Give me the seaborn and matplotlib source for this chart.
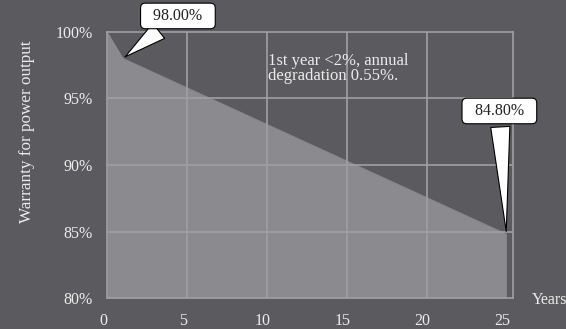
import matplotlib
matplotlib.use("Agg")
import matplotlib.pyplot as plt
import matplotlib.transforms as mtrans
import seaborn as sns
import pandas as pd

# ─────────────────────────── Data ────────────────────────────────────────────
years = [0, 1, 25]
warranty = [100.0, 98.0, 84.8]
x_ticks = [0, 5, 10, 15, 20, 25]
y_ticks = [80, 85, 90, 95, 100]
y_labels = ['80%', '85%', '90%', '95%', '100%']

BG = '#5b5a5f'
FILL = '#8b8a8f'
GRID = '#a09fa4'
TXT = '#ececec'

sns.set_theme(style="white")
plt.rcParams['font.family'] = ['Liberation Serif', 'DejaVu Serif']

df = pd.DataFrame({'Year': years, 'Warranty': warranty})

fig = plt.figure(figsize=(5.66, 3.29), dpi=100, facecolor=BG)
ax = fig.add_axes([0.189, 0.094, 0.717, 0.809])
ax.set_facecolor(BG)

ax.fill_between(df['Year'], df['Warranty'], 80, color=FILL, lw=0, zorder=1)
sns.lineplot(data=df, x='Year', y='Warranty', ax=ax, color=FILL, lw=0.8, zorder=2)

ax.set_xlim(0, 25.4)
ax.set_ylim(80, 100)
ax.set_xticks(x_ticks)
ax.set_yticks(y_ticks)
ax.set_yticklabels(y_labels)
ax.tick_params(axis='both', length=0, colors=TXT, labelsize=11.5)
ax.tick_params(axis='y', pad=10)
ax.tick_params(axis='x', pad=10.5)
# x tick labels sit a little left of their ticks in the original
shift = mtrans.ScaledTranslation(-4 / 100, 0, fig.dpi_scale_trans)
for lab in ax.get_xticklabels():
    lab.set_transform(lab.get_transform() + shift)

# grid
for v in [5, 10, 15, 20]:
    ax.axvline(v, color=GRID, lw=1.2, zorder=3)
for v in [85, 90, 95]:
    ax.axhline(v, color=GRID, lw=1.2, zorder=3)
for sp in ax.spines.values():
    sp.set_color(GRID)
    sp.set_linewidth(1.2)
    sp.set_zorder(3)

ax.set_xlabel('')
ax.set_ylabel('')
fig.text(0.048, 0.60, 'Warranty for power output', color=TXT, fontsize=12.3,
         rotation=90, ha='center', va='center')
fig.text(0.94, 0.088, 'Years', color=TXT, fontsize=11.5, ha='left', va='center')

ax.text(10.1, 98.45, '1st year <2%, annual\ndegradation 0.55%.', color=TXT,
        fontsize=12, ha='left', va='top', linespacing=0.95, zorder=4)

box = dict(boxstyle='round,pad=0.3', fc='white', ec='black', lw=0.8)
arrow = dict(arrowstyle='wedge,tail_width=1.2', fc='white', ec='black', lw=0.8)
ax.annotate('  98.00%  ', xy=(years[1], warranty[1]), xytext=(4.44, 101.2),
            fontsize=11.5, color='#222222', ha='center', va='center',
            bbox=box, arrowprops=arrow, annotation_clip=False, zorder=5)
ax.annotate('  84.80%  ', xy=(years[2], warranty[2]), xytext=(24.56, 94.06),
            fontsize=11.5, color='#222222', ha='center', va='center',
            bbox=box, arrowprops=arrow, annotation_clip=False, zorder=5)

fig.savefig('out.png', dpi=100, facecolor=BG)
